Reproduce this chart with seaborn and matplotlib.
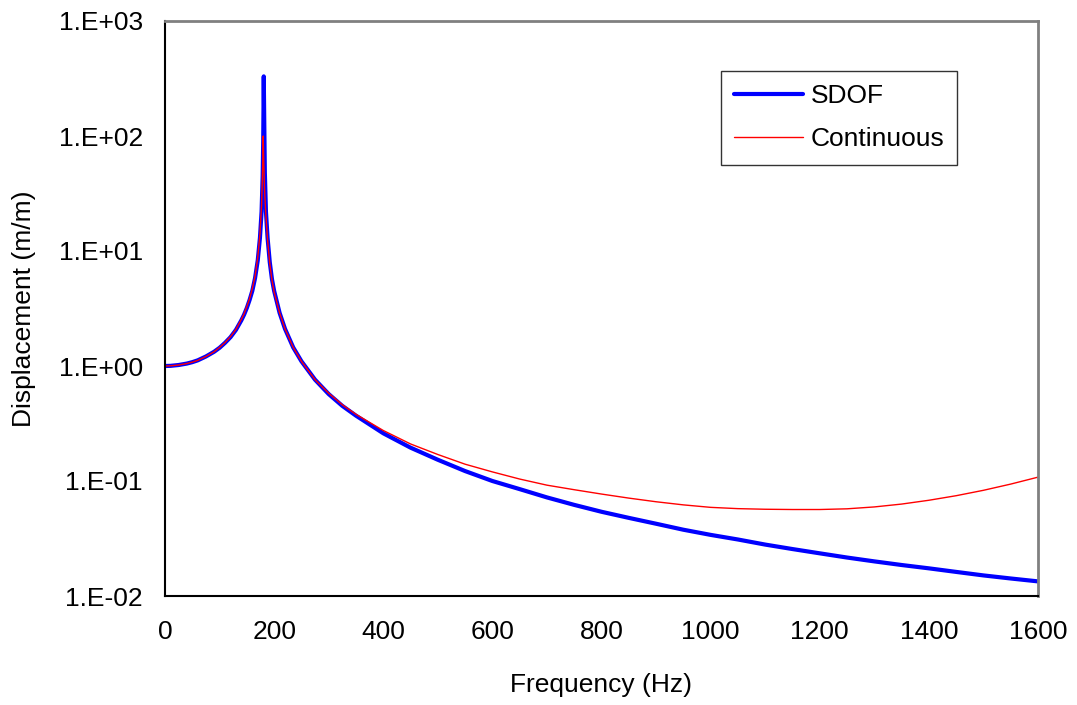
import numpy as np
import pandas as pd
import matplotlib
matplotlib.use("Agg")
import matplotlib.pyplot as plt
import seaborn as sns
from matplotlib.ticker import MultipleLocator, LogLocator, FuncFormatter, NullFormatter
from matplotlib.lines import Line2D

# ---- data ----
freq_hz = [0, 10, 25, 40, 50, 60, 75, 90, 100, 110, 120, 130, 140, 145, 150, 155, 160,
           165, 170, 174, 177, 179, 180, 181, 182, 183, 185, 188, 192, 196, 200, 210,
           220, 235, 250, 275, 300, 325, 350, 400, 450, 500, 550, 600, 650, 700, 750,
           800, 850, 900, 950, 1000, 1050, 1100, 1150, 1200, 1250, 1300, 1350, 1400,
           1450, 1500, 1550, 1600]

sdof = [1.00, 1.003, 1.02, 1.05, 1.08, 1.12, 1.21, 1.33, 1.44, 1.59, 1.78, 2.06, 2.5, 2.8,
        3.2, 3.75, 4.5, 5.8, 8.3, 13, 22, 45, 90, 330, 120, 48, 22, 13, 8.0, 5.7, 4.5,
        2.9, 2.1, 1.45, 1.1, 0.76, 0.57, 0.45, 0.37, 0.26, 0.195, 0.153, 0.122, 0.100,
        0.085, 0.072, 0.062, 0.054, 0.0478, 0.0425, 0.0377, 0.034, 0.031, 0.028, 0.0256,
        0.0235, 0.0216, 0.020, 0.0186, 0.0174, 0.0162, 0.0151, 0.0142, 0.0134]

continuous = [1.00, 1.003, 1.02, 1.05, 1.08, 1.12, 1.21, 1.33, 1.45, 1.6, 1.8, 2.08, 2.55,
              2.85, 3.3, 3.85, 4.7, 6.0, 8.8, 14, 25, 55, 100, 60, 40, 30, 20, 12.5, 7.8,
              5.6, 4.4, 2.9, 2.1, 1.45, 1.1, 0.76, 0.58, 0.46, 0.38, 0.275, 0.21, 0.17,
              0.14, 0.12, 0.104, 0.092, 0.084, 0.077, 0.071, 0.066, 0.062, 0.059, 0.0575,
              0.0568, 0.0565, 0.0565, 0.0573, 0.0595, 0.063, 0.068, 0.0745, 0.083, 0.094,
              0.108]

series_names = ["SDOF", "Continuous"]
x_label = "Frequency (Hz)"
y_label = "Displacement (m/m)"

df = pd.DataFrame({
    "Frequency": freq_hz * 2,
    "Displacement": sdof + continuous,
    "Series": [series_names[0]] * len(freq_hz) + [series_names[1]] * len(freq_hz),
})

sns.set_style("white")
plt.rcParams["font.family"] = ["Liberation Sans", "DejaVu Sans"]

fig = plt.figure(figsize=(10.77, 7.05), dpi=100)
ax = fig.add_axes([165 / 1077, 1 - 596 / 705, (1038 - 165) / 1077, (596 - 21) / 705])

sns.lineplot(data=df, x="Frequency", y="Displacement", hue="Series",
             palette={"SDOF": "#0000FF", "Continuous": "#FF0000"},
             size="Series", sizes={"SDOF": 3.0, "Continuous": 1.0},
             sort=False, estimator=None, ax=ax, legend=False)

ax.set_yscale("log")
ax.set_xlim(0, 1600)
ax.set_ylim(1e-2, 1e3)

ax.xaxis.set_major_locator(MultipleLocator(200))
ax.xaxis.set_minor_locator(MultipleLocator(50))
ax.yaxis.set_major_locator(LogLocator(base=10, numticks=10))
ax.yaxis.set_minor_locator(LogLocator(base=10, subs=np.arange(2, 10), numticks=20))
ax.yaxis.set_major_formatter(FuncFormatter(lambda v, p: "1.E{:+03d}".format(int(round(np.log10(v))))))
ax.yaxis.set_minor_formatter(NullFormatter())

ax.tick_params(axis="both", which="major", direction="inout", length=10, width=1.0,
               color="black", labelsize=19, labelcolor="black")
ax.tick_params(axis="y", which="major", pad=11)
ax.tick_params(axis="x", which="major", pad=12)
ax.tick_params(axis="both", which="minor", direction="in", length=5, width=1.0, color="black")
ax.tick_params(axis="y", which="both", right=False)
ax.tick_params(axis="x", which="both", top=False)

for s in ["left", "bottom"]:
    ax.spines[s].set_color("black")
    ax.spines[s].set_linewidth(1.5)
for s in ["top", "right"]:
    ax.spines[s].set_color("#808080")
    ax.spines[s].set_linewidth(2.0)

ax.set_xlabel(x_label, fontsize=19, labelpad=21, color="black")
ax.set_ylabel(y_label, fontsize=19, labelpad=16, color="black")

handles = [Line2D([], [], color="#0000FF", lw=3.0), Line2D([], [], color="#FF0000", lw=1.0)]
leg = ax.legend(handles, series_names, loc="upper left", bbox_to_anchor=(0.6366, 0.9136),
                fontsize=19, frameon=True, fancybox=False, handlelength=2.6,
                handletextpad=0.3, labelspacing=0.74, borderpad=0.5, borderaxespad=0)
leg.get_frame().set_edgecolor("black")
leg.get_frame().set_linewidth(1.0)
for t in leg.get_texts():
    t.set_color("black")

fig.savefig("out.png", dpi=100)
